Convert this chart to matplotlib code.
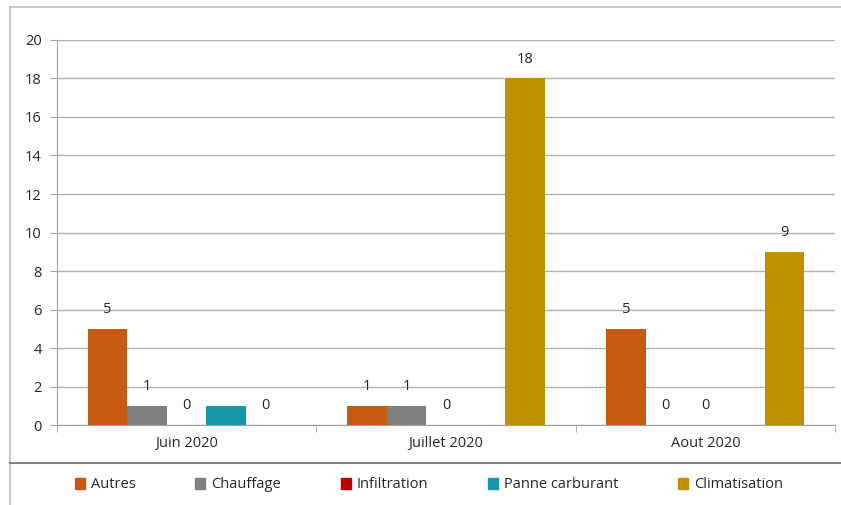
import numpy as np
import matplotlib.pyplot as plt
from matplotlib.lines import Line2D
from matplotlib.patches import Patch

plt.rcParams['font.family'] = ['Open Sans', 'DejaVu Sans']

months = ["Juin 2020", "Juillet 2020", "Aout 2020"]
series = ["Autres", "Chauffage", "Infiltration", "Panne carburant", "Climatisation"]
autres = [5, 1, 5]
chauffage = [1, 1, 0]
infiltration = [0, 0, 0]
panne = [1, 0, 0]
climatisation = [0, 18, 9]
values = [autres, chauffage, infiltration, panne, climatisation]
show_labels = [True, True, True, False, True]
colors = ["#c55a11", "#7f7f7f", "#c00000", "#1497a8", "#bf9000"]

fig = plt.figure(figsize=(8.41, 5.05), dpi=100)
ax = fig.add_axes([0.0678, 0.1584, 0.9251, 0.7624])

x = np.arange(len(months))
w = 0.1525
for i, (name, vals) in enumerate(zip(series, values)):
    pos = x + (i - 2) * w
    ax.bar(pos, vals, width=w, color=colors[i], label=name, zorder=3)
    if show_labels[i]:
        for px, v in zip(pos, vals):
            ax.annotate(str(v), (px, v), xytext=(0, 14), textcoords="offset points",
                        ha="center", va="center", fontsize=10.5, color="#262626")

ax.set_xlim(-0.5, 2.5)
ax.set_ylim(0, 20)
ax.set_yticks(range(0, 21, 2))
ax.set_xticks(x)
ax.set_xticklabels(months)
ax.set_xticks([-0.5, 0.5, 1.5, 2.5], minor=True)
ax.tick_params(axis="x", which="major", length=0, pad=8, labelsize=10.5, labelcolor="#262626")
ax.tick_params(axis="x", which="minor", length=5, color="#a0a0a0")
ax.tick_params(axis="y", length=5, color="#a0a0a0", labelsize=10.5, labelcolor="#262626", pad=6)
ax.grid(axis="y", color="#b0b0b0", linewidth=1, zorder=0)
for s in ["top", "right"]:
    ax.spines[s].set_visible(False)
ax.spines["left"].set_color("#a0a0a0")
ax.spines["bottom"].set_color("#a0a0a0")

# outer frame and legend separator
fig.add_artist(Line2D([10 / 841, 1], [1 - 7 / 505, 1 - 7 / 505], color="#bfbfbf", lw=1.2))
fig.add_artist(Line2D([10 / 841, 10 / 841], [0, 1 - 7 / 505], color="#bfbfbf", lw=1.2))
fig.add_artist(Line2D([10 / 841, 1], [1 - 463 / 505, 1 - 463 / 505], color="#808080", lw=1.5))

handles = [Patch(color=c, label=s) for c, s in zip(colors, series)]
fig.legend(handles=handles, loc="center", bbox_to_anchor=(0.51, 1 - 485 / 505), ncol=5,
           frameon=False, fontsize=10.5, handlelength=0.7, handleheight=0.7,
           handletextpad=0.4, columnspacing=4.1, labelcolor="#262626")

fig.savefig("out.png", dpi=100)
